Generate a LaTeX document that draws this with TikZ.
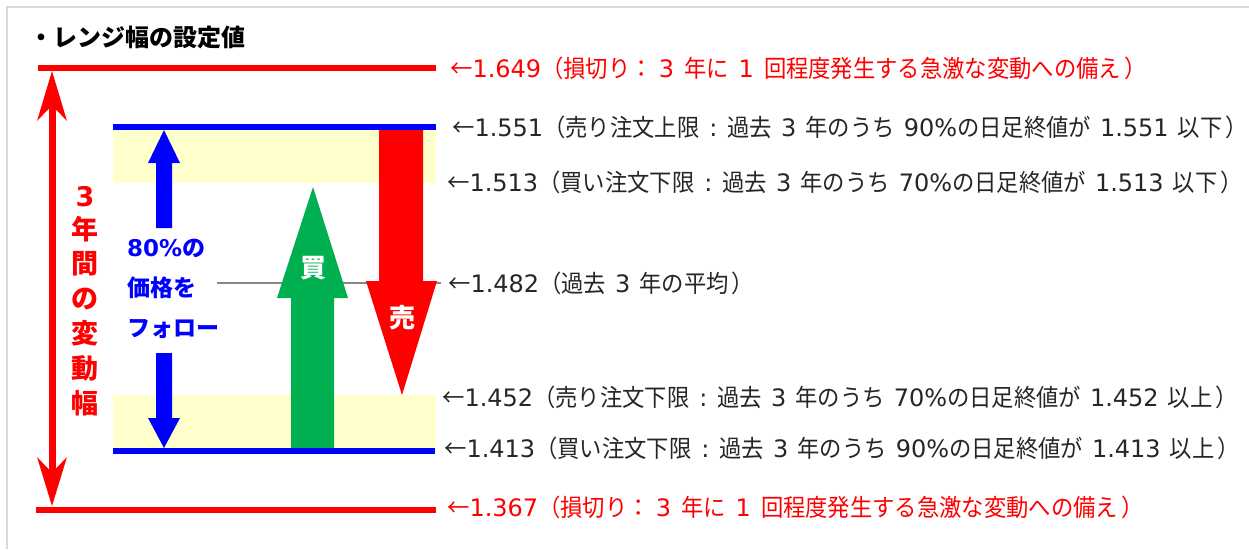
\documentclass[tikz,border=0pt]{standalone}
\usepackage{fontspec}
\setmainfont{DejaVu Sans}
\newfontfamily\jpf[FakeStretch=0.93]{Noto Sans CJK JP}
\newfontfamily\jpn{Noto Sans CJK JP}
\definecolor{rred}{RGB}{255,0,0}
\definecolor{bblue}{RGB}{0,0,255}
\definecolor{ggreen}{RGB}{0,176,80}
\definecolor{yel}{RGB}{255,255,204}
\definecolor{gbord}{RGB}{217,217,217}
\definecolor{txt}{RGB}{38,38,38}
\definecolor{gline}{RGB}{135,135,135}
\newcommand\J[1]{{\jpf #1}}
\newcommand\sg{\hspace{9pt}}
\newcommand\cl{\hspace{10pt}:\hspace{10pt}}
\newcommand\lossline[1]{\J{←}#1\J{（損切り：}\hspace{6pt}3\hspace{10pt}\J{年に}\hspace{10pt}1\hspace{10pt}\J{回程度発生する急激な変動への備え}\hspace{3pt}\J{）}}
\newcommand\ordline[5]{\J{←}#1\J{（#2}\cl\J{過去}\sg3\sg\J{年のうち}\sg#3\%\J{の日足終値が}\sg#4\sg\J{#5}\hspace{3pt}\J{）}}
\begin{document}
\begin{tikzpicture}[x=1pt,y=-1pt,
  lbl/.style={anchor=west,inner sep=0pt,text height=21pt,text depth=3pt,font=\fontsize{24}{28}\selectfont,text=txt},
  redlbl/.style={lbl,text=rred},
  vchar/.style={inner sep=0pt,text=rred,font=\fontsize{27}{30}\selectfont\bfseries},
  bluetxt/.style={anchor=west,inner sep=0pt,text height=20pt,text depth=3pt,text=bblue,font=\fontsize{23}{26}\selectfont\bfseries},
  arrtxt/.style={inner sep=0pt,text=white,font=\fontsize{26}{28}\selectfont\bfseries\jpn}]
\useasboundingbox (0,0) rectangle (1249,549);
\fill[white] (0,0) rectangle (1249,549);
\draw[gbord,line width=2.5pt] (7,549) -- (7,7) -- (1249,7);
% title
\node[anchor=west,inner sep=0pt,font=\fontsize{24}{27}\selectfont\bfseries\jpn,text=black] (title) at (29,37) {・レンジ幅の設定値};
% bands
\fill[yel] (113,130) rectangle (436,183);
\fill[yel] (113,395) rectangle (436,448);
% labels
\node[redlbl] (l1) at (450,68) {\lossline{1.649}};
\node[lbl] (l2) at (452,127) {\ordline{1.551}{売り注文上限}{90}{1.551}{以下}};
\node[lbl] (l3) at (447,182) {\ordline{1.513}{買い注文下限}{70}{1.513}{以下}};
\node[lbl] (l4) at (448,283) {\J{←}1.482\J{（過去}\sg3\sg\J{年の平均}\hspace{3pt}\J{）}};
\node[lbl] (l5) at (442,397) {\ordline{1.452}{売り注文下限}{70}{1.452}{以上}};
\node[lbl] (l6) at (444,448) {\ordline{1.413}{買い注文下限}{90}{1.413}{以上}};
\node[redlbl] (l7) at (447,507) {\lossline{1.367}};
% mean line
\coordinate (m0) at (217,283);
\coordinate (m1) at (441,283);
\draw[gline,line width=2.2pt] (m0) -- (m1);
% blue follow arrows
\fill[bblue] (164,130) -- (180,163) -- (172,163) -- (172,228) -- (156,228) -- (156,163) -- (148,163) -- cycle;
\fill[bblue] (164,448) -- (180,418) -- (172,418) -- (172,353) -- (156,353) -- (156,418) -- (148,418) -- cycle;
% buy arrow
\fill[ggreen] (313,187) -- (348,298) -- (334,298) -- (334,449) -- (291,449) -- (291,298) -- (277,298) -- cycle;
\node[arrtxt] (buy) at (313,268) {買};
% sell arrow
\fill[rred] (379,128) -- (423,128) -- (423,281) -- (437,281) -- (402,395) -- (366,281) -- (379,281) -- cycle;
\node[arrtxt] (sell) at (402,318) {売};
% blue lines
\draw[bblue,line width=6pt] (113,127) -- (436,127);
\draw[bblue,line width=6pt] (113,451) -- (435,451);
% red lines
\draw[rred,line width=6pt] (38,68) -- (436,68);
\draw[rred,line width=6pt] (36,510) -- (436,510);
% red double arrow
\draw[rred,line width=7pt] (52,105) -- (52,473);
\fill[rred] (52,71) -- (67,121) -- (55.5,109) -- (48.5,109) -- (37,121) -- cycle;
\fill[rred] (52,506) -- (67,457) -- (55.5,469) -- (48.5,469) -- (37,457) -- cycle;
% vertical text
\node[vchar] (v1) at (85,197) {3};
\node[vchar,font=\fontsize{27}{30}\selectfont\bfseries\jpn] (v2) at (85,229) {年};
\node[vchar,font=\fontsize{27}{30}\selectfont\bfseries\jpn] (v3) at (85,264) {間};
\node[vchar,font=\fontsize{27}{30}\selectfont\bfseries\jpn] (v4) at (85,299) {の};
\node[vchar,font=\fontsize{27}{30}\selectfont\bfseries\jpn] (v5) at (85,333) {変};
\node[vchar,font=\fontsize{27}{30}\selectfont\bfseries\jpn] (v6) at (85,368) {動};
\node[vchar,font=\fontsize{27}{30}\selectfont\bfseries\jpn] (v7) at (85,403) {幅};
% blue text
\node[bluetxt] (b1) at (127,248) {80\%{\jpn の}};
\node[bluetxt,font=\fontsize{23}{26}\selectfont\bfseries\jpn] (b2) at (127,288) {価格を};
\node[bluetxt,font=\fontsize{23}{26}\selectfont\bfseries\jpn] (b3) at (127,328) {フォロー};
\end{tikzpicture}
\end{document}
